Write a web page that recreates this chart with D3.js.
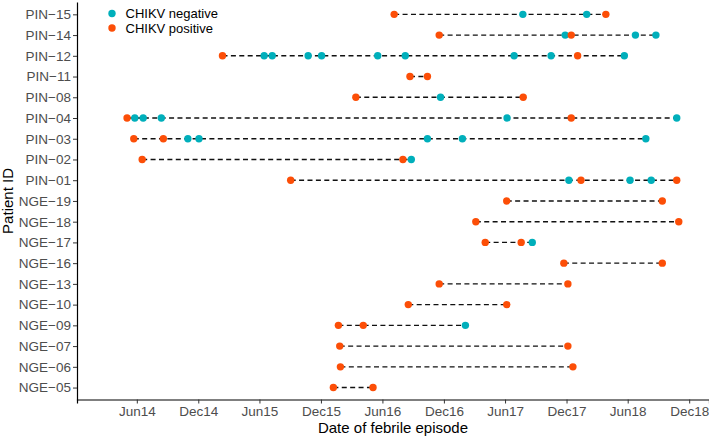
<!DOCTYPE html>
<html>
<head>
<meta charset="utf-8">
<script src="https://cdn.jsdelivr.net/npm/d3@7"></script>
<style>
  body { margin: 0; background: #fff; }
  svg { display: block; font-family: "Liberation Sans", Arial, sans-serif; }
</style>
</head>
<body>
<div id="chart"></div>
<script>
(function(){

    // patients, top to bottom
    var patients = ["PIN-15","PIN-14","PIN-12","PIN-11","PIN-08","PIN-04","PIN-03","PIN-02","PIN-01",
                    "NGE-19","NGE-18","NGE-17","NGE-16","NGE-13","NGE-10","NGE-09","NGE-07","NGE-06","NGE-05"];

    var negativeEpisodes = [
        ["PIN-15","2017-07-24"],["PIN-15","2018-01-30"],
        ["PIN-14","2017-11-27"],["PIN-14","2018-06-24"],["PIN-14","2018-08-24"],
        ["PIN-12","2015-06-15"],["PIN-12","2015-07-09"],["PIN-12","2015-10-24"],["PIN-12","2015-12-03"],
        ["PIN-12","2016-05-18"],["PIN-12","2016-08-08"],["PIN-12","2017-06-28"],["PIN-12","2017-10-16"],
        ["PIN-12","2018-05-22"],
        ["PIN-08","2016-11-21"],
        ["PIN-04","2014-05-26"],["PIN-04","2014-06-20"],["PIN-04","2014-08-13"],["PIN-04","2017-06-07"],
        ["PIN-04","2018-10-25"],
        ["PIN-03","2014-10-31"],["PIN-03","2014-12-03"],["PIN-03","2016-10-13"],["PIN-03","2017-01-25"],
        ["PIN-03","2018-07-25"],
        ["PIN-02","2016-08-26"],
        ["PIN-01","2017-12-08"],["PIN-01","2018-06-08"],["PIN-01","2018-08-10"],
        ["NGE-17","2017-08-21"],
        ["NGE-09","2017-02-03"]
    ];

    var positiveEpisodes = [
        ["PIN-15","2016-07-06"],["PIN-15","2018-03-28"],
        ["PIN-14","2016-11-17"],["PIN-14","2017-12-15"],
        ["PIN-12","2015-02-11"],["PIN-12","2018-01-03"],
        ["PIN-11","2016-08-22"],["PIN-11","2016-10-13"],
        ["PIN-08","2016-03-14"],["PIN-08","2017-07-25"],
        ["PIN-04","2014-05-03"],["PIN-04","2017-12-15"],
        ["PIN-03","2014-05-23"],["PIN-03","2014-08-19"],
        ["PIN-02","2014-06-17"],["PIN-02","2016-08-01"],
        ["PIN-01","2015-09-02"],["PIN-01","2018-01-13"],["PIN-01","2018-10-25"],
        ["NGE-19","2017-06-06"],["NGE-19","2018-09-12"],
        ["NGE-18","2017-03-06"],["NGE-18","2018-10-31"],
        ["NGE-17","2017-04-03"],["NGE-17","2017-07-19"],
        ["NGE-16","2017-11-23"],["NGE-16","2018-09-12"],
        ["NGE-13","2016-11-17"],["NGE-13","2017-12-05"],
        ["NGE-10","2016-08-17"],["NGE-10","2017-06-06"],
        ["NGE-09","2016-01-22"],["NGE-09","2016-04-05"],
        ["NGE-07","2016-01-26"],["NGE-07","2017-12-05"],
        ["NGE-06","2016-01-28"],["NGE-06","2017-12-20"],
        ["NGE-05","2016-01-07"],["NGE-05","2016-05-04"]
    ];

    var tickDates = ["2014-06-01","2014-12-01","2015-06-01","2015-12-01","2016-06-01",
                     "2016-12-01","2017-06-01","2017-12-01","2018-06-01","2018-12-01"];
    var dateRange = ["2013-12-05","2019-01-29"];

    var legendLabels = ["CHIKV negative","CHIKV positive"];
    var colours = ["#00AFBB","#FC4E07"];

    var width = 709, height = 437;
    var left = 77, right = 709, top = 1.9, bottom = 400;

    var parse = d3.utcParse("%Y-%m-%d");

    var canvas = d3.select("#chart")
                .append("svg")
                .attr("width",width)
                .attr("height",height);

    var x = d3.scaleUtc()
              .domain(dateRange.map(parse))
              .range([left,right]);

    var y = d3.scalePoint()
              .domain(patients)
              .range([top,bottom])
              .padding(0.6);

    // dashed span per patient
    var all = negativeEpisodes.concat(positiveEpisodes);
    var spans = patients.map(function(p){
        var ds = all.filter(function(e){ return e[0] === p; }).map(function(e){ return parse(e[1]); });
        return {id:p, start:d3.min(ds), end:d3.max(ds)};
    });

    canvas.append("g").selectAll("line")
        .data(spans)
        .join("line")
        .attr("x1",function(d){ return x(d.start); })
        .attr("x2",function(d){ return x(d.end); })
        .attr("y1",function(d){ return y(d.id); })
        .attr("y2",function(d){ return y(d.id); })
        .attr("stroke","#111")
        .attr("stroke-width",1.4)
        .attr("stroke-dasharray","5,3.4");

    [negativeEpisodes, positiveEpisodes].forEach(function(set,i){
        canvas.append("g").selectAll("circle")
            .data(set)
            .join("circle")
            .attr("cx",function(d){ return x(parse(d[1])); })
            .attr("cy",function(d){ return y(d[0]); })
            .attr("r",3.7)
            .attr("fill",colours[i]);
    });

    // axes
    var xAxis = canvas.append("g")
        .attr("transform","translate(0," + (bottom - 0.5) + ")")
        .call(d3.axisBottom(x)
                .tickValues(tickDates.map(parse))
                .tickFormat(d3.utcFormat("%b%y"))
                .tickSizeOuter(0)
                .tickSize(4)
                .tickPadding(3));

    var yAxis = canvas.append("g")
        .attr("transform","translate(" + left + ",0)")
        .call(d3.axisLeft(y).tickSize(4).tickPadding(2).tickSizeOuter(0));

    yAxis.selectAll(".tick text").text(function(d){ return d.replace("-","\u2212"); });

    [xAxis, yAxis].forEach(function(a){
        a.select(".domain").attr("stroke","#000").attr("stroke-width",1.2);
        a.selectAll(".tick line").attr("stroke","#333").attr("stroke-width",1);
        a.selectAll(".tick text")
            .attr("fill","#4d4d4d")
            .style("font-size","13.5px")
            .style("font-family","'Liberation Sans', Arial, sans-serif");
    });

    // axis titles
    canvas.append("text")
        .attr("x",(left + right) / 2)
        .attr("y",433)
        .attr("text-anchor","middle")
        .style("font-size","15px")
        .text("Date of febrile episode");

    canvas.append("text")
        .attr("transform","translate(13," + ((top + bottom) / 2) + ") rotate(-90)")
        .attr("text-anchor","middle")
        .style("font-size","15px")
        .text("Patient ID");

    // legend
    legendLabels.forEach(function(l,i){
        canvas.append("circle")
            .attr("cx",112)
            .attr("cy",13.5 + i * 14.5)
            .attr("r",3.7)
            .attr("fill",colours[i]);
        canvas.append("text")
            .attr("x",125.5)
            .attr("y",13.5 + i * 14.5)
            .attr("dy","0.36em")
            .style("font-size","13px")
            .text(l);
    });

})();
</script>
</body>
</html>
